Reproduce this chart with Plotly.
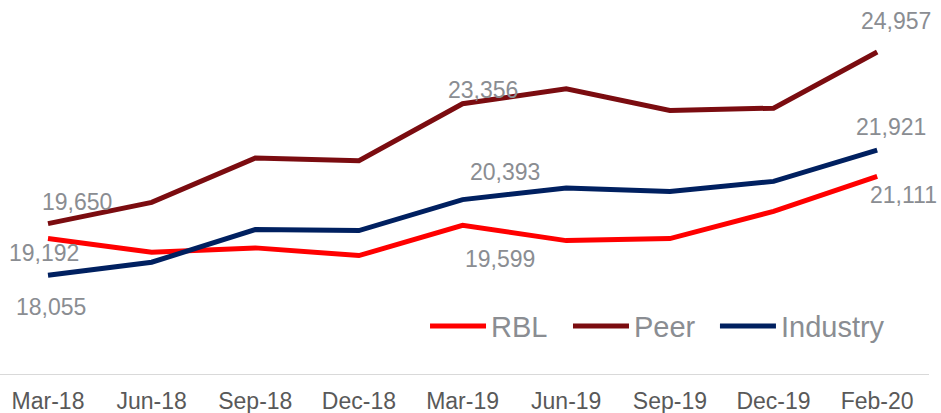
import plotly.graph_objects as go

categories = ["Mar-18", "Jun-18", "Sep-18", "Dec-18", "Mar-19", "Jun-19", "Sep-19", "Dec-19", "Feb-20"]
rbl = [19192, 18764, 18900, 18662, 19599, 19125, 19187, 20030, 21111]
peer = [19650, 20307, 21678, 21594, 23356, 23817, 23147, 23221, 24957]
industry = [18055, 18456, 19465, 19434, 20393, 20752, 20647, 20956, 21921]

series_names = ["RBL", "Peer", "Industry"]
series_values = [rbl, peer, industry]
colors = ["#FF0000", "#7B0C10", "#002060"]
legend_ids = ["legend", "legend2", "legend3"]
legend_x = [0.4575, 0.6114, 0.7696]

fig = go.Figure()
for name, vals, col, lg in zip(series_names, series_values, colors, legend_ids):
    fig.add_trace(go.Scatter(
        x=categories, y=vals, name=name, mode="lines",
        line=dict(color=col, width=5), legend=lg,
    ))

# labelled points: (series index, point index, xshift, yshift)
label_specs = [
    (1, 0, 29, 22), (0, 0, -4, -15), (2, 0, 3, -32),
    (1, 4, 20, 14), (2, 4, 42, 28), (0, 4, 37, -34),
    (1, 8, 19, 31), (2, 8, 14, 23), (0, 8, 26, -19),
]
annotations = []
for s, i, xs, ys in label_specs:
    v = series_values[s][i]
    annotations.append(dict(
        x=categories[i], y=v, xref="x", yref="y", text=f"{v:,}",
        showarrow=False, xshift=xs, yshift=ys,
        font=dict(family="Liberation Sans, Arial, sans-serif", size=23, color="#8A8D92"),
    ))

legend_style = dict(
    orientation="h", y=0.128, xanchor="left", yanchor="middle",
    font=dict(family="Liberation Sans, Arial, sans-serif", size=29, color="#8A8D92"),
    bgcolor="rgba(0,0,0,0)", itemwidth=56,
)
legends = {lg: dict(legend_style, x=lx) for lg, lx in zip(legend_ids, legend_x)}

fig.update_layout(
    width=941, height=413,
    margin=dict(l=0, r=12, t=0, b=39, autoexpand=False),
    paper_bgcolor="white", plot_bgcolor="white",
    showlegend=True,
    xaxis=dict(
        type="category", range=[-0.463, 8.5], automargin=False,
        showgrid=False, zeroline=False, tickangle=0,
        showline=True, linecolor="#D9D9D9", linewidth=1,
        ticks="", ticklabelstandoff=6,
        tickfont=dict(family="Liberation Sans, Arial, sans-serif", size=23, color="#595959"),
    ),
    yaxis=dict(
        range=[15000, 26565], showgrid=False, zeroline=False, automargin=False,
        showline=False, showticklabels=False, ticks="",
    ),
    annotations=annotations,
    **legends,
)

fig.write_html("out.html", config={"displayModeBar": False},
               post_script="document.body.style.margin='0';")
